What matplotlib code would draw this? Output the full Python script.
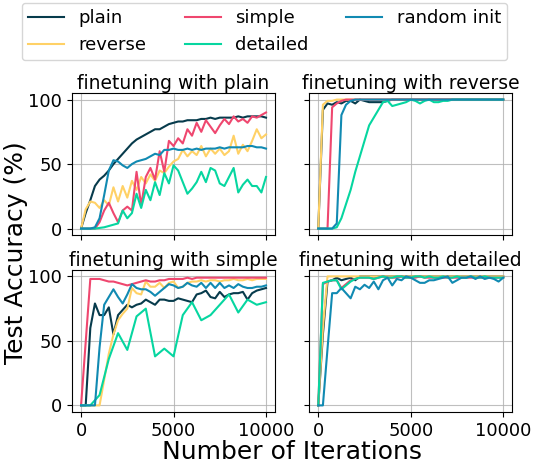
import matplotlib
matplotlib.use("Agg")
import matplotlib.pyplot as plt
import numpy as np

iters = list(range(0, 10001, 250))
iters_coarse = list(range(0, 10001, 500))

series_names = ["plain", "reverse", "simple", "detailed", "random init"]
colors = ["#073B4C", "#FFD166", "#EF476F", "#06D6A0", "#118AB2"]
panel_titles = ["finetuning with plain", "finetuning with reverse",
                "finetuning with simple", "finetuning with detailed"]

# ---- finetuning with plain ----
p_plain = [0, 12, 22, 33, 38, 41, 45, 50, 54, 58, 62, 66, 69, 71, 73, 75, 77, 77, 79, 81, 82,
           83, 83, 84, 84, 84, 85, 85, 86, 85, 86, 86, 86, 86, 87, 86, 87, 87, 87, 87, 86]
p_reverse = [0, 15, 21, 20, 16, 22, 18, 32, 21, 33, 24, 37, 30, 40, 35, 42, 37, 45, 43, 48, 52,
             54, 61, 56, 60, 57, 64, 56, 62, 58, 62, 57, 60, 72, 58, 65, 60, 68, 77, 70, 73]
p_simple = [0, 0, 0, 0, 5, 14, 20, 12, 5, 14, 17, 14, 44, 18, 40, 47, 38, 60, 44, 68, 64,
            70, 66, 77, 72, 82, 75, 84, 79, 74, 80, 85, 81, 87, 83, 85, 82, 87, 86, 88, 90]
p_detailed = [0, 0, 0, 0, 0.5, 1, 2, 3, 4, 14, 8, 12, 27, 16, 30, 22, 36, 26, 43, 35, 49,
              45, 36, 27, 31, 36, 44, 36, 47, 45, 35, 33, 40, 47, 28, 34, 38, 33, 33, 28, 40]
p_random = [0, 0, 0, 1, 8, 26, 45, 53, 52, 49, 47, 50, 52, 53, 54, 56, 58, 57, 61, 61, 62,
            61, 61, 62, 61, 62, 61, 62, 62, 62, 63, 62, 63, 63, 63, 63, 64, 64, 63, 63, 62]

# ---- finetuning with reverse ----
r_plain = [0, 92, 97, 96, 98, 97, 99, 99, 97, 100, 99, 98, 98, 98, 98, 99, 100, 100, 100, 100, 100,
           100, 100, 100, 100, 100, 100, 100, 100, 100, 100, 100, 100, 100, 100, 100, 100, 100, 100, 100, 100]
r_reverse = [0, 96, 99, 99, 100, 100, 100, 100, 100, 100, 100, 100, 100, 100, 100, 100, 100, 100, 100, 100, 100,
             100, 100, 100, 100, 100, 100, 100, 100, 100, 100, 100, 100, 100, 100, 100, 100, 100, 100, 100, 100]
r_simple = [0, 0, 0, 94, 97, 99, 100, 100, 100, 100, 100, 100, 100, 100, 100, 100, 100, 100, 100, 100, 100,
            100, 100, 100, 100, 100, 100, 100, 100, 100, 100, 100, 100, 100, 100, 100, 100, 100, 100, 100, 100]
r_detailed = [0, 0, 0, 0, 1, 8, 19, 30, 44, 56, 68, 80, 86, 92, 98, 99, 95, 96, 97, 98, 100,
              99, 97, 99, 100, 98, 98, 99, 99, 100, 100, 100, 100, 100, 100, 100, 100, 100, 100, 100, 100]
r_random = [0, 0, 0, 0, 4, 88, 96, 99, 100, 100, 100, 100, 100, 100, 100, 100, 100, 100, 100, 100, 100,
            100, 100, 100, 100, 100, 100, 100, 100, 100, 100, 100, 100, 100, 100, 100, 100, 100, 100, 100, 100]

# ---- finetuning with simple ----
s_plain = [0, 0, 60, 79, 70, 70, 76, 55, 70, 74, 78, 76, 78, 79, 82, 80, 78, 82, 82, 81, 81,
           83, 82, 81, 80, 86, 87, 89, 84, 83, 88, 84, 86, 87, 87, 88, 82, 87, 89, 90, 91]
s_reverse = [0, 0, 0, 0, 0, 20, 40, 55, 66, 71, 75, 91, 87, 86, 96, 92, 92, 95, 91, 95, 96,
             91, 92, 95, 96, 96, 97, 96, 97, 97, 96, 97, 97, 98, 97, 97, 98, 97, 98, 98, 98]
s_simple = [0, 49, 98, 98, 98, 97, 96, 96, 95, 94, 93, 94, 95, 96, 97, 96, 96, 97, 97, 98, 98,
            98, 98, 99, 98, 99, 99, 99, 99, 99, 99, 99, 99, 99, 99, 99, 99, 99, 99, 99, 99]
s_detailed = [0, 0, 8, 36, 56, 43, 69, 75, 38, 44, 38, 70, 80, 66, 70, 78, 86, 72, 82, 78, 80]
s_random = [0, 0, 0, 0, 45, 78, 84, 90, 84, 79, 86, 94, 91, 90, 90, 88, 85, 88, 91, 94, 93,
            91, 92, 95, 93, 92, 95, 91, 95, 91, 95, 91, 93, 91, 94, 92, 91, 91, 92, 92, 93]

# ---- finetuning with detailed ----
d_plain = [0, 55, 96, 97, 99, 97, 98, 99, 97, 100, 100, 100, 100, 100, 100, 100, 100, 100, 100, 100, 100,
           100, 100, 100, 100, 100, 100, 100, 100, 100, 100, 100, 100, 100, 100, 100, 100, 100, 100, 100, 100]
d_reverse = [0, 60, 100, 100, 100, 100, 100, 100, 100, 100, 100, 100, 100, 100, 100, 100, 100, 100, 100, 100, 100,
             100, 100, 100, 100, 100, 100, 100, 100, 100, 100, 100, 100, 100, 100, 100, 100, 100, 100, 100, 100]
d_simple = [0, 94, 96, 97, 97, 91, 94, 97, 98, 99, 99, 99, 98, 99, 100, 99, 99, 99, 100, 99, 99,
            99, 100, 99, 99, 99, 99, 99, 99, 99, 99, 99, 99, 99, 99, 99, 99, 99, 99, 99, 99]
d_detailed = [0, 95, 96, 97, 97, 90, 93, 96, 98, 99, 99, 99, 98, 99, 100, 99, 99, 100, 100, 99, 99,
              100, 100, 99, 100, 99, 99, 100, 99, 99, 100, 99, 99, 100, 99, 99, 100, 99, 99, 99, 99]
d_random = [0, 0, 44, 87, 87, 91, 87, 83, 92, 90, 93.5, 91, 96, 90, 97, 99, 93, 98, 97, 100, 99,
            97, 95, 95, 97, 97, 98, 99, 100, 95, 97, 99, 99, 100, 98, 100, 98, 99, 98, 96, 99]

panels = [
    [(iters, p_plain), (iters, p_reverse), (iters, p_simple), (iters, p_detailed), (iters, p_random)],
    [(iters, r_plain), (iters, r_reverse), (iters, r_simple), (iters, r_detailed), (iters, r_random)],
    [(iters, s_plain), (iters, s_reverse), (iters, s_simple), (iters_coarse, s_detailed), (iters, s_random)],
    [(iters, d_plain), (iters, d_reverse), (iters, d_simple), (iters, d_detailed), (iters, d_random)],
]

fig, axes = plt.subplots(2, 2, figsize=(5.4, 4.68), dpi=100, sharex=True, sharey=True)
L, R, T, B = 0.133, 0.949, 0.801, 0.12
fig.subplots_adjust(left=L, right=R, top=T, bottom=B, hspace=0.246, wspace=0.166)

for ax, title, data in zip(axes.flat, panel_titles, panels):
    for (x, y), name, c in zip(data, series_names, colors):
        ax.plot(x, y, color=c, lw=1.5, label=name)
    ax.set_title(title, fontsize=13.5, pad=3)
    ax.grid(True, color="#b0b0b0", lw=0.8, alpha=0.8)
    ax.set_xticks([0, 5000, 10000])
    ax.set_yticks([0, 50, 100])
    ax.tick_params(labelsize=13)

handles, labels = axes[0, 0].get_legend_handles_labels()
fig.legend(handles, labels, loc="upper center", bbox_to_anchor=(0.49, 0.998), ncol=3,
           fontsize=13, frameon=True, handlelength=2.0, columnspacing=2.1,
           borderaxespad=0.1, borderpad=0.35)
fig.text((L + R) / 2, 0.035, "Number of Iterations", fontsize=18, ha="center", va="center")
fig.text(0.03, (T + B) / 2, "Test Accuracy (%)", fontsize=18, ha="center", va="center",
         rotation=90)

fig.savefig("out.png", dpi=100)
